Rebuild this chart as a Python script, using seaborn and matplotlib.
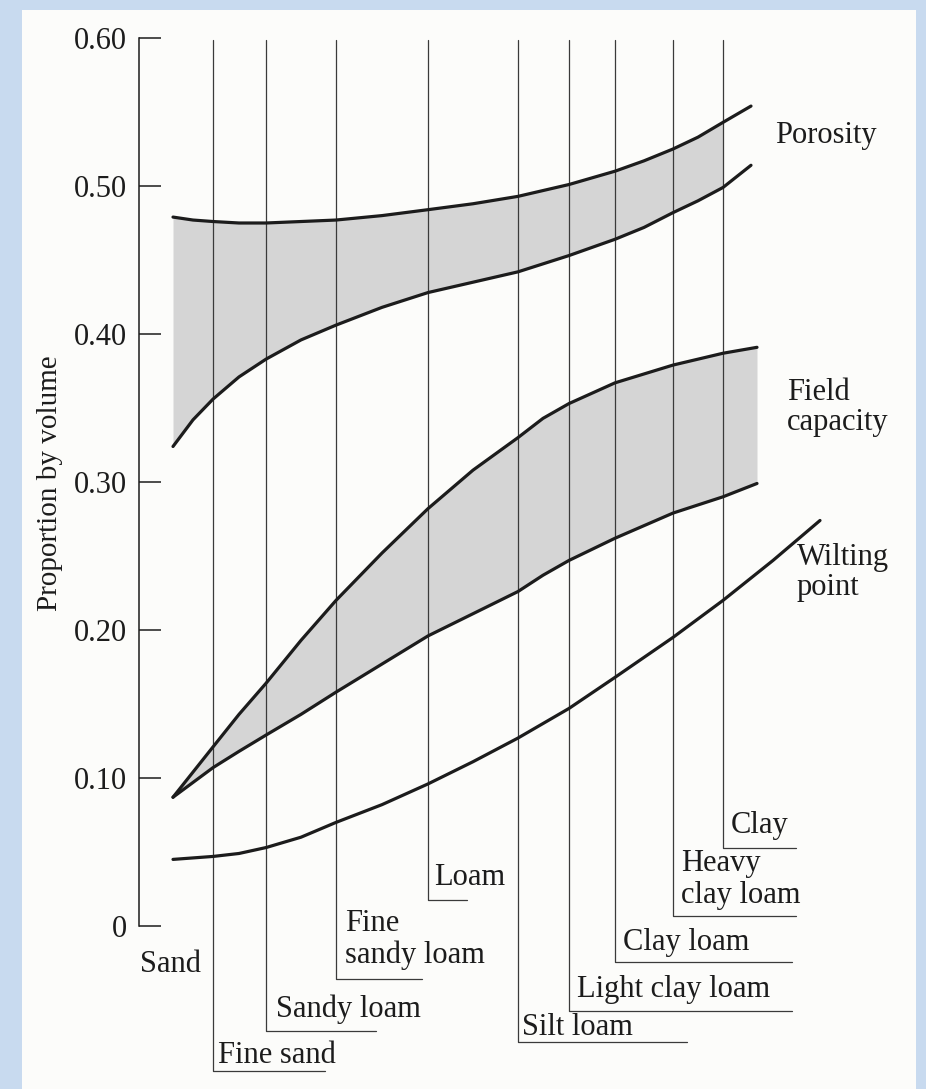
import numpy as np
import pandas as pd
import seaborn as sns
import matplotlib.pyplot as plt
from matplotlib.patches import Rectangle

sns.set_style("ticks")
plt.rcParams['font.family'] = ['Liberation Serif', 'DejaVu Serif']

# soil texture classes along the horizontal texture scale (Sand = 0)
soil_names = ['Sand', 'Fine sand', 'Sandy loam', 'Fine\nsandy loam', 'Loam', 'Silt loam',
              'Light clay loam', 'Clay loam', 'Heavy\nclay loam', 'Clay']
soil_pos = [0, 40, 93, 163, 255, 345, 396, 442, 500, 550]
clay_pos = 550

# curves (proportion by volume)
poro_x = [0, 20, 40, 66, 93, 128, 163, 209, 255, 300, 345, 396, 442, 471, 500, 525, 550, 578]
poro_upper = [0.479, 0.477, 0.476, 0.475, 0.475, 0.476, 0.477, 0.480, 0.484, 0.488, 0.493,
              0.501, 0.510, 0.517, 0.525, 0.533, 0.543, 0.554]
poro_lower = [0.324, 0.342, 0.356, 0.371, 0.383, 0.396, 0.406, 0.418, 0.428, 0.435, 0.442,
              0.453, 0.464, 0.472, 0.482, 0.490, 0.499, 0.514]

fc_x = [0, 20, 40, 66, 93, 128, 163, 209, 255, 300, 345, 370, 396, 442, 500, 550, 584]
fc_upper = [0.087, 0.104, 0.121, 0.143, 0.164, 0.193, 0.220, 0.252, 0.282, 0.308, 0.330,
            0.343, 0.353, 0.367, 0.379, 0.387, 0.391]
fc_lower = [0.087, 0.097, 0.107, 0.118, 0.129, 0.143, 0.158, 0.177, 0.196, 0.211, 0.226,
            0.237, 0.247, 0.262, 0.279, 0.290, 0.299]

wp_x = [0, 40, 66, 93, 128, 163, 209, 255, 300, 345, 396, 442, 500, 550, 600, 647]
wilting = [0.045, 0.047, 0.049, 0.053, 0.060, 0.070, 0.082, 0.096, 0.111, 0.127, 0.147,
           0.168, 0.195, 0.220, 0.247, 0.274]

y_ticks = [0, 0.1, 0.2, 0.3, 0.4, 0.5, 0.6]
y_ticklabels = ['0', '0.10', '0.20', '0.30', '0.40', '0.50', '0.60']

# label layout (pixels in the 926x1089 picture)
leader_bottom = [None, 1071, 1031, 979, 900, 1042, 1011, 962, 916, 848]
leader_end = [None, 325, 376, 422, 467, 687, 792, 792, 796, 796]
label_x = [140, 218, 276, 345, 434, 522, 577, 623, 681, 731]
label_base = [972, 1063, 1017, 963, 885, 1035, 997, 950, 903, 833]

INK = '#1c1c1c'
THIN = '#3a3a3a'
FILL = '#d5d5d5'
FS = 22


def px(x):
    return x - 173


def vy(y):
    return (926 - y) / 1480


fig = plt.figure(figsize=(9.26, 10.89), dpi=100)
ax = fig.add_axes([0, 0, 1, 1])
ax.set_xlim(px(0), px(926))
ax.set_ylim(vy(1089), vy(0))
ax.patch.set_facecolor('#c8daef')
ax.add_patch(Rectangle((22 / 926, 0), (916 - 22) / 926, 1 - 10 / 1089,
                       transform=ax.transAxes, facecolor='#fcfcfa', edgecolor='none', zorder=0))

# shaded bands (porosity band stops at the Clay line)
poro = pd.DataFrame({'x': poro_x, 'up': poro_upper, 'lo': poro_lower})
poro_in = poro[poro['x'] <= clay_pos]
ax.fill_between(poro_in['x'], poro_in['lo'], poro_in['up'], color=FILL, lw=0, zorder=1)
ax.fill_between(fc_x, fc_lower, fc_upper, color=FILL, lw=0, zorder=1)

# soil class leader lines
top = vy(40)
for i in range(1, len(soil_names)):
    x0 = soil_pos[i]
    yb = vy(leader_bottom[i])
    ax.plot([x0, x0, px(leader_end[i])], [top, yb, yb], color=THIN, lw=0.9, zorder=2)

# curves
for xs, ys in [(poro_x, poro_upper), (poro_x, poro_lower), (fc_x, fc_upper),
               (fc_x, fc_lower), (wp_x, wilting)]:
    sns.lineplot(x=xs, y=ys, ax=ax, color=INK, lw=2.3, estimator=None, sort=False, zorder=3)
for ln in ax.lines:
    ln.set_solid_joinstyle('round')

# soil labels
for i, name in enumerate(soil_names):
    lines = name.split('\n')
    for k, line in enumerate(reversed(lines)):
        ax.text(px(label_x[i]), vy(label_base[i] - 32 * k), line, fontsize=FS,
                ha='left', va='baseline', color=INK)

# curve labels
ax.text(px(775), vy(143), 'Porosity', fontsize=FS, ha='left', va='baseline', color=INK)
ax.text(px(787), vy(400), 'Field', fontsize=FS, ha='left', va='baseline', color=INK)
ax.text(px(787), vy(430), 'capacity', fontsize=FS, ha='left', va='baseline', color=INK)
ax.text(px(797), vy(565), 'Wilting', fontsize=FS, ha='left', va='baseline', color=INK)
ax.text(px(797), vy(595), 'point', fontsize=FS, ha='left', va='baseline', color=INK)

ax.text(px(50), vy(483), 'Proportion by volume', fontsize=21, rotation=90,
        ha='center', va='center', color=INK)

# y axis
for s in ['top', 'right', 'bottom']:
    ax.spines[s].set_visible(False)
ax.spines['left'].set_position(('data', px(139)))
ax.spines['left'].set_bounds(0, 0.6)
ax.spines['left'].set_color(INK)
ax.spines['left'].set_linewidth(1.1)
ax.spines['left'].set_zorder(4)
ax.set_xticks([])
ax.set_yticks(y_ticks)
ax.set_yticklabels(y_ticklabels)
ax.tick_params(axis='y', direction='in', length=16, width=1.1, pad=9,
               labelsize=FS, colors=INK)
ax.set_xlabel('')
ax.set_ylabel('')

fig.savefig('out.png', dpi=100)
